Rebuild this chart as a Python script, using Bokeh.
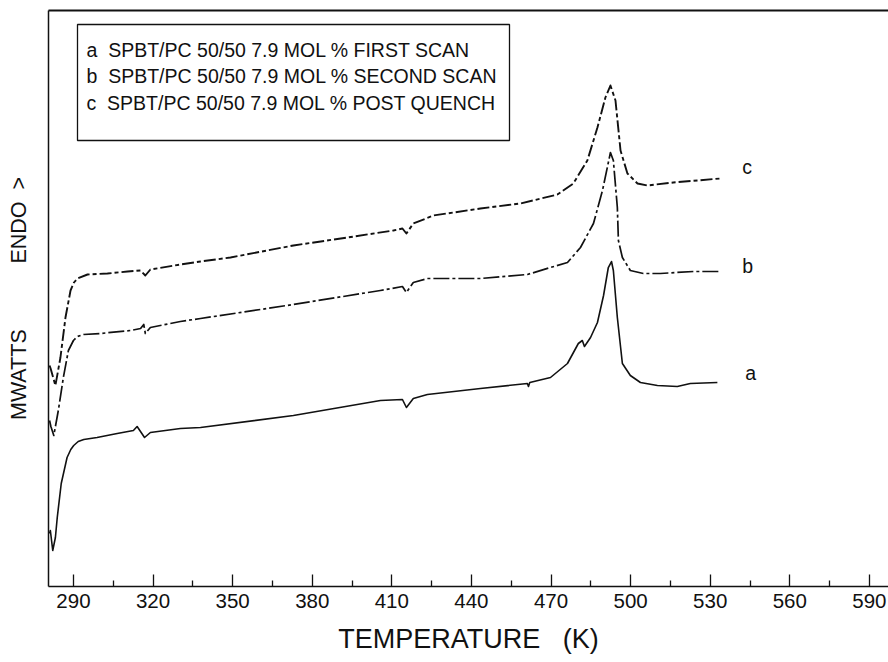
from bokeh.plotting import figure
from bokeh.models import Range1d, FixedTicker, LinearAxis, Label, BoxAnnotation
from bokeh.embed import file_html
from bokeh.resources import INLINE

# ---- data (temperature K, heat flow arbitrary mW units) ----
temp_a = [281.0, 281.3, 282.2, 283.2, 283.9, 285.4, 287.6, 289.0, 290.1, 291.8, 293.9, 298.9,
          306.5, 312.6, 314.0, 316.8, 319.0, 330.3, 337.9, 372.9, 405.7, 414.0,
          415.5, 418.1, 423.4, 443.4, 461.1, 461.5, 462.0, 469.8, 476.2, 480.3,
          481.8, 482.6, 484.9, 487.5, 489.8, 491.6, 492.8, 493.5, 495.0, 496.9,
          499.9, 503.7, 510.1, 517.6, 522.5, 532.7]
mw_a = [5.3, 5.6, 3.6, 4.9, 6.9, 10.3, 12.9, 13.7, 14.1, 14.5, 14.7, 14.9,
        15.3, 15.6, 16.0, 14.9, 15.4, 15.8, 15.9, 17.1, 18.6, 18.7,
        17.9, 18.8, 19.2, 19.8, 20.3, 20.0, 20.4, 20.9, 22.3, 24.3,
        24.6, 24.0, 24.9, 26.4, 29.1, 31.9, 32.5, 31.6, 26.9, 22.3,
        21.1, 20.4, 20.1, 20.0, 20.3, 20.4]

temp_b = [281.0, 281.5, 282.6, 284.3, 286.2, 288.1, 290.0, 291.5, 293.8, 300.2, 311.5,
          315.3, 316.5, 317.1, 319.0, 330.3, 337.9, 372.9, 405.7, 414.0, 415.5,
          418.1, 423.4, 443.4, 461.1, 469.8, 476.2, 481.1, 486.0, 489.4, 492.4,
          493.5, 495.0, 495.4, 496.9, 499.9, 504.8, 511.2, 523.7, 533.8]
mw_b = [16.6, 16.0, 15.1, 17.6, 20.9, 23.6, 24.6, 25.0, 25.2, 25.3, 25.6,
        25.8, 26.2, 25.3, 25.9, 26.5, 26.8, 28.2, 29.6, 30.0, 29.4,
        30.4, 30.8, 30.8, 31.2, 31.9, 32.4, 33.9, 36.3, 39.6, 43.4,
        42.6, 37.9, 34.6, 32.9, 31.6, 31.3, 31.3, 31.5, 31.5]

temp_c = [281.0, 281.4, 283.2, 285.1, 287.0, 288.9, 290.2, 291.5, 295.3, 302.8, 310.4,
          315.3, 317.1, 319.0, 330.3, 337.9, 349.2, 372.9, 393.3, 410.6, 414.0,
          415.5, 418.1, 425.7, 443.4, 458.5, 472.4, 478.4, 483.7, 487.5, 490.5,
          492.4, 494.3, 496.2, 498.8, 502.6, 506.3, 516.1, 533.8]
mw_c = [22.1, 21.8, 20.1, 22.9, 26.9, 29.6, 30.4, 30.8, 31.2, 31.3, 31.5,
        31.6, 31.1, 31.7, 32.2, 32.5, 32.9, 34.1, 34.9, 35.6, 35.8,
        35.3, 36.3, 37.1, 37.8, 38.3, 39.2, 40.3, 42.6, 45.9, 48.9,
        50.1, 48.6, 43.6, 41.3, 40.3, 40.1, 40.4, 40.8]

curve_names = ["a", "b", "c"]
legend_labels = [
    "a\u00a0\u00a0SPBT/PC 50/50 7.9 MOL % FIRST SCAN",
    "b\u00a0\u00a0SPBT/PC 50/50 7.9 MOL % SECOND SCAN",
    "c\u00a0\u00a0SPBT/PC 50/50 7.9 MOL % POST QUENCH",
]
x_ticks = [290, 320, 350, 380, 410, 440, 470, 500, 530, 560, 590]
x_minor_ticks = [305, 335, 365, 395, 425, 455, 485, 515, 545, 575]
x_title = "TEMPERATURE\u00a0\u00a0\u00a0(K)"
y_title = "MWATTS" + "\u00a0" * 11 + "ENDO\u00a0\u00a0>"

FONT = "Liberation Sans"
INK = "#111111"
X0, X1 = 280.6, 597.2
Y0, Y1 = 0.0, 57.6

p = figure(width=888, height=662, x_range=Range1d(X0, X1), y_range=Range1d(Y0, Y1),
           output_backend="svg", toolbar_location=None,
           min_border_left=48, min_border_right=0, min_border_top=10, min_border_bottom=76)
p.xgrid.visible = False
p.ygrid.visible = False
p.outline_line_color = None
p.background_fill_color = "white"
p.border_fill_color = "white"

xa = p.xaxis[0]
xa.ticker = FixedTicker(ticks=x_ticks, minor_ticks=x_minor_ticks)
xa.major_tick_in = 12
xa.major_tick_out = 0
xa.minor_tick_in = 6
xa.minor_tick_out = 0
xa.major_tick_line_width = 1.3
xa.minor_tick_line_width = 1.3
xa.axis_line_width = 1.5
xa.axis_line_color = INK
xa.major_tick_line_color = INK
xa.minor_tick_line_color = INK
xa.major_label_text_font = FONT
xa.major_label_text_font_size = "20.5px"
xa.major_label_text_color = INK
xa.major_label_standoff = 7
xa.axis_label = x_title
xa.axis_label_text_font = FONT
xa.axis_label_text_font_size = "27px"
xa.axis_label_text_font_style = "normal"
xa.axis_label_text_color = INK
xa.axis_label_standoff = 13

ya = p.yaxis[0]
ya.ticker = FixedTicker(ticks=[])
ya.major_tick_line_color = None
ya.minor_tick_line_color = None
ya.major_label_text_font_size = "0px"
ya.major_label_standoff = 0
ya.axis_line_width = 1.5
ya.axis_line_color = INK
ya.axis_label = y_title
ya.axis_label_text_font = FONT
ya.axis_label_text_font_size = "21.5px"
ya.axis_label_text_font_style = "normal"
ya.axis_label_text_color = INK
ya.axis_label_standoff = 18

top = LinearAxis(ticker=FixedTicker(ticks=[]), major_tick_line_color=None,
                 minor_tick_line_color=None, major_label_text_font_size="0px",
                 major_label_standoff=0, axis_line_width=2.2, axis_line_color=INK)
p.add_layout(top, "above")

styles = {
    "a": dict(line_width=1.6, line_dash="solid"),
    "b": dict(line_width=1.7, line_dash="16 3 3 3"),
    "c": dict(line_width=1.9, line_dash="12 3 4 3"),
}
series = {"a": (temp_a, mw_a), "b": (temp_b, mw_b), "c": (temp_c, mw_c)}
label_offsets = {"a": (28, 10), "b": (22, 6), "c": (22, 12)}

for name in curve_names:
    t, m = series[name]
    p.line(t, m, line_color=INK, line_join="round", **styles[name])
    dx, dy = label_offsets[name]
    p.add_layout(Label(x=t[-1], y=m[-1], x_offset=dx, y_offset=dy, text=name,
                       text_font=FONT, text_font_size="19.5px", text_color=INK,
                       text_baseline="middle", text_align="left"))

# pixel -> data helpers for annotation placement
def dx_px(px):
    return X0 + (px - 48) * (X1 - X0) / 840.0

def dy_px(py):
    return Y0 + (586 - py) * (Y1 - Y0) / 576.0

# legend box
p.add_layout(BoxAnnotation(left=dx_px(77), right=dx_px(509), top=dy_px(24), bottom=dy_px(140),
                           fill_color=None, fill_alpha=0, line_color=INK, line_alpha=1.0,
                           line_width=1.3))
for i, txt in enumerate(legend_labels):
    p.add_layout(Label(x=dx_px(86), y=dy_px(49 + 26.5 * i), text=txt, text_font=FONT,
                       text_font_size="19.5px", text_color=INK,
                       text_baseline="middle", text_align="left"))

open("out.html", "w").write(file_html(p, INLINE))
